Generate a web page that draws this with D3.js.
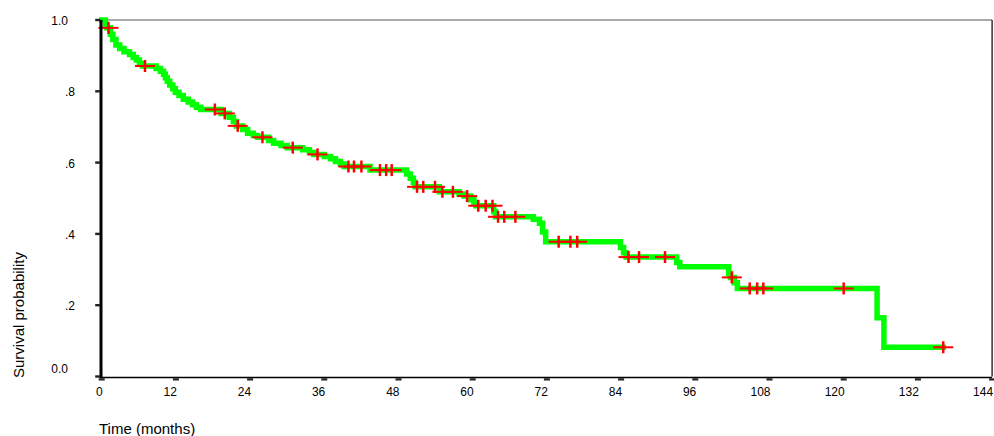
<!DOCTYPE html>
<html>
<head>
<meta charset="utf-8">
<script src="https://cdn.jsdelivr.net/npm/d3@7"></script>
<style>
  html, body { margin: 0; padding: 0; background: #fff; }
  svg { display: block; }
  text { font-family: Arial, "Liberation Sans", sans-serif; fill: #000; }
</style>
</head>
<body>
<svg id="chart" width="994" height="436"></svg>
<script>
// Kaplan-Meier estimate: event times (months) and survival right after each event
const eventTimes = [
  0.6, 0.8, 1.4, 1.8, 2.3, 2.9, 3.6, 4.5, 5.1, 5.6, 6.1, 6.6,
  8.8, 9.5, 10.0, 10.3, 10.6, 11.0, 11.5, 11.9, 12.5, 13.2, 14.0, 14.7, 15.3, 16.0,
  19.3, 20.6, 21.3, 21.8, 22.8, 23.6, 24.5, 25.2, 27.0, 27.8, 29.0, 30.0,
  32.5, 33.6, 34.3, 36.0, 37.0, 37.8, 38.6, 39.2, 43.4,
  49.3, 49.9, 50.4, 50.7, 54.6, 57.8, 58.6, 59.7, 60.2, 60.5, 63.4, 63.7,
  69.8, 70.8, 71.3, 71.8, 83.9, 84.4, 84.8, 93.0, 93.5,
  101.4, 101.7, 102.3, 102.8, 125.4, 126.5
];
const survival = [
  0.985, 0.978, 0.960, 0.945, 0.930, 0.920, 0.911, 0.903, 0.895, 0.888, 0.878, 0.871,
  0.864, 0.856, 0.848, 0.838, 0.828, 0.818, 0.807, 0.797, 0.788, 0.778, 0.770, 0.762, 0.755, 0.749,
  0.738, 0.727, 0.715, 0.703, 0.693, 0.682, 0.676, 0.671, 0.662, 0.654, 0.648, 0.642,
  0.636, 0.628, 0.623, 0.617, 0.611, 0.603, 0.596, 0.589, 0.579,
  0.568, 0.556, 0.544, 0.532, 0.518, 0.512, 0.506, 0.496, 0.486, 0.479, 0.462, 0.448,
  0.441, 0.430, 0.405, 0.378, 0.362, 0.347, 0.335, 0.320, 0.308,
  0.289, 0.278, 0.263, 0.247, 0.165, 0.082
];
// Censored observations (months)
const censorTimes = [
  1.1, 7.0, 18.3, 19.9, 22.0, 26.0, 30.9, 34.9,
  39.9, 40.8, 42.0, 45.0, 46.0, 46.9,
  51.0, 52.0, 53.9, 55.1, 56.8, 59.1, 60.9, 62.1, 63.2, 64.1, 65.1, 66.9,
  73.9, 75.8, 76.9, 85.2, 86.9, 91.1,
  101.9, 104.8, 106.0, 107.0, 120.0, 136.1
];
const xTicks = [0, 12, 24, 36, 48, 60, 72, 84, 96, 108, 120, 132, 144];
const yTicks = [0, 0.2, 0.4, 0.6, 0.8, 1.0];
const yTickLabels = ["0.0", ".2", ".4", ".6", ".8", "1.0"];
const xTitle = "Time (months)";
const yTitle = "Survival probability";

const svg = d3.select("#chart");
const x = d3.scaleLinear().domain([0, 144]).range([101.7, 992.1]);
const y = d3.scaleLinear().domain([0, 1]).range([376.5, 20]);

// survival value at time t (step function, right-continuous)
function survivalAt(t) {
  let s = 1;
  for (let i = 0; i < eventTimes.length; i++) {
    if (eventTimes[i] <= t) s = survival[i];
  }
  return s;
}

// frame: top and right borders
svg.append("line").attr("x1", x(0)).attr("x2", x(144)).attr("y1", y(1)).attr("y2", y(1))
  .attr("stroke", "#555").attr("stroke-width", 1.2);
svg.append("line").attr("x1", x(144)).attr("x2", x(144)).attr("y1", y(1)).attr("y2", y(0))
  .attr("stroke", "#000").attr("stroke-width", 1.2);

// survival curve
const lastT = censorTimes[censorTimes.length - 1];
const pts = [[0, 1]].concat(eventTimes.map((t, i) => [t, survival[i]]), [[lastT, survivalAt(lastT)]]);
const line = d3.line().x(d => x(d[0])).y(d => y(d[1])).curve(d3.curveStepAfter);
svg.append("path").attr("d", line(pts))
  .attr("fill", "none").attr("stroke", "#00ff00").attr("stroke-width", 5.5)
  .attr("stroke-linejoin", "miter").attr("stroke-linecap", "square");

// censor marks
const cm = svg.append("g");
censorTimes.forEach(t => {
  const cx = x(t), cy = y(survivalAt(t));
  cm.append("line").attr("x1", cx - 10).attr("x2", cx + 10).attr("y1", cy).attr("y2", cy)
    .attr("stroke", "#ff0000").attr("stroke-width", 2);
  cm.append("line").attr("x1", cx).attr("x2", cx).attr("y1", cy - 6).attr("y2", cy + 6)
    .attr("stroke", "#ff0000").attr("stroke-width", 2.5);
});

// axes lines
svg.append("line").attr("x1", x(0)).attr("x2", x(144)).attr("y1", y(0) + 1).attr("y2", y(0) + 1)
  .attr("stroke", "#000").attr("stroke-width", 1.6);
svg.append("line").attr("x1", x(0) - 0.7).attr("x2", x(0) - 0.7).attr("y1", y(1)).attr("y2", y(0) + 1.8)
  .attr("stroke", "#000").attr("stroke-width", 3);

// x ticks and labels
const gx = svg.append("g");
xTicks.forEach(t => {
  gx.append("rect").attr("x", x(t) - 3).attr("y", y(0) + 1.8).attr("width", 6).attr("height", 2.2).attr("fill", "#222");
  gx.append("text").attr("x", x(t) + 1).attr("y", 395.5).attr("text-anchor", "end")
    .attr("font-size", 12).text(t);
});

// y ticks and labels
const gy = svg.append("g");
yTicks.forEach((v, i) => {
  gy.append("rect").attr("x", x(0) - 6.5).attr("y", y(v) - 1.2).attr("width", 5).attr("height", 2.4).attr("fill", "#222");
  const lab = yTickLabels[i];
  const right = lab.startsWith(".") ? 75 : 68;
  const cy = v === 0 ? y(v) - 7.5 : y(v) + 0.8;
  gy.append("text").attr("x", right).attr("y", cy).attr("dy", "0.35em").attr("text-anchor", "end")
    .attr("font-size", 12).text(lab);
});

// axis titles
svg.append("text").attr("x", 99).attr("y", 434).attr("font-size", 15).text(xTitle);
svg.append("text").attr("transform", "translate(23.5,378) rotate(-90)").attr("font-size", 15).text(yTitle);
</script>
</body>
</html>
